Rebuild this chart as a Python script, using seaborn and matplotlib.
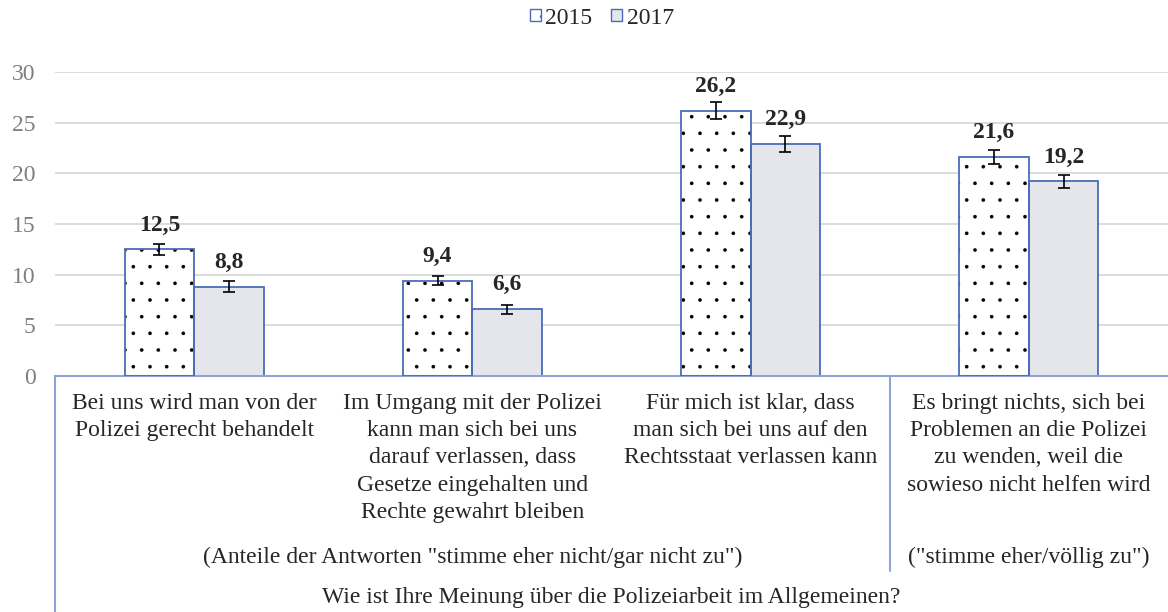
import numpy as np
import pandas as pd
import matplotlib
matplotlib.use("Agg")
import matplotlib.pyplot as plt
import matplotlib.transforms as mtransforms
from matplotlib.patches import Rectangle, Patch
import seaborn as sns

# Daten
categories = [
    "Bei uns wird man von der\nPolizei gerecht behandelt",
    "Im Umgang mit der Polizei\nkann man sich bei uns\ndarauf verlassen, dass\nGesetze eingehalten und\nRechte gewahrt bleiben",
    "Für mich ist klar, dass\nman sich bei uns auf den\nRechtsstaat verlassen kann",
    "Es bringt nichts, sich bei\nProblemen an die Polizei\nzu wenden, weil die\nsowieso nicht helfen wird",
]
years = ["2015", "2017"]
values_2015 = [12.5, 9.4, 26.2, 21.6]
values_2017 = [8.8, 6.6, 22.9, 19.2]
err_2015 = [0.55, 0.45, 0.8, 0.7]
err_2017 = [0.55, 0.45, 0.75, 0.65]
group_labels = ['(Anteile der Antworten "stimme eher nicht/gar nicht zu")',
                '("stimme eher/völlig zu")']
bottom_title = "Wie ist Ihre Meinung über die Polizeiarbeit im Allgemeinen?"
y_ticks = [0, 5, 10, 15, 20, 25, 30]

BLUE = "#4A6BB8"
LINE_BLUE = "#8FA3D6"
FILL_2017 = "#E3E6EC"

df = pd.DataFrame({
    "Aussage": categories * 2,
    "Jahr": [years[0]] * 4 + [years[1]] * 4,
    "Wert": values_2015 + values_2017,
    "Fehler": err_2015 + err_2017,
})

sns.set_style("white")
plt.rcParams["font.family"] = ["Liberation Serif", "DejaVu Serif"]
plt.rcParams["font.size"] = 17
plt.rcParams["hatch.linewidth"] = 0.2

W, H = 1168, 612
fig, ax = plt.subplots(figsize=(W / 100, H / 100), dpi=100)
fig.subplots_adjust(left=55 / W, right=1.0, top=1 - 72 / H, bottom=1 - 376 / H)

sns.barplot(data=df, x="Aussage", y="Wert", hue="Jahr", order=categories,
            hue_order=years, palette=["white", FILL_2017], width=0.5,
            errorbar=None, legend=False, ax=ax)

bars = list(ax.patches)
for i, p in enumerate(bars):
    is_2015 = i < len(categories)
    if is_2015:
        # Punktmuster in schwarz, Rahmen separat in blau
        p.set_hatch(".")
        p.set_edgecolor("black")
        p.set_linewidth(0)
        ax.add_patch(Rectangle(p.get_xy(), p.get_width(), p.get_height(),
                               fill=False, edgecolor=BLUE, lw=1.3, zorder=3))
    else:
        p.set_edgecolor(BLUE)
        p.set_linewidth(1.3)

# Fehlerbalken und Beschriftungen
errs = err_2015 + err_2017
vals = values_2015 + values_2017
for p, e, v in zip(bars, errs, vals):
    xc = p.get_x() + p.get_width() / 2
    ax.errorbar(xc, p.get_height(), yerr=e, fmt="none", ecolor="black",
                elinewidth=1.2, capsize=4.5, capthick=1.2, zorder=4)
    ax.annotate(f"{v:.1f}".replace(".", ","), (xc, p.get_height()),
                xytext=(0, 17.5), textcoords="offset points",
                ha="center", va="center", fontweight="bold", fontsize=17)

ax.set_ylim(0, 30)
ax.set_yticks(y_ticks)
ax.set_xlim(-0.5, len(categories) - 0.5)
ax.set_xlabel("")
ax.set_ylabel("")
ax.yaxis.grid(True, color="#D9D9D9", lw=1.3)
ax.set_axisbelow(True)
for s in ["top", "right", "left"]:
    ax.spines[s].set_visible(False)
ax.spines["bottom"].set_color(LINE_BLUE)
ax.spines["bottom"].set_linewidth(1.5)
ax.tick_params(axis="y", length=0, pad=14, labelcolor="#7F7F7F", labelsize=17)
ax.tick_params(axis="x", length=0, pad=12, labelsize=17)
for lab in ax.get_xticklabels():
    lab.set_linespacing(1.4)

# Gruppenbeschriftungen unterhalb
trans = mtransforms.blended_transform_factory(ax.transData, fig.transFigure)
ax.text(1.0, 1 - 557 / H, group_labels[0], transform=trans, ha="center", va="center", fontsize=17)
ax.text(3.0, 1 - 557 / H, group_labels[1], transform=trans, ha="center", va="center", fontsize=17)
ax.text(1.5, 1 - 598 / H, bottom_title, transform=trans, ha="center", va="center", fontsize=17)

ax.plot([-0.5, -0.5], [1 - 376 / H, 0], transform=trans, color=LINE_BLUE, lw=1.5, clip_on=False)
ax.plot([2.5, 2.5], [1 - 376 / H, 1 - 571 / H], transform=trans, color=LINE_BLUE, lw=1.5, clip_on=False)

# Legende
handles = [Patch(facecolor="white", edgecolor=BLUE, hatch=".", lw=1.0),
           Patch(facecolor=FILL_2017, edgecolor=BLUE, lw=1.0)]
fig.legend(handles, years, loc="center", bbox_to_anchor=(602 / W, 1 - 18 / H),
           ncol=2, frameon=False, handlelength=0.45, handleheight=0.45,
           handletextpad=0.2, columnspacing=0.8, fontsize=17)

fig.savefig("out.png", dpi=100)
plt.close(fig)
